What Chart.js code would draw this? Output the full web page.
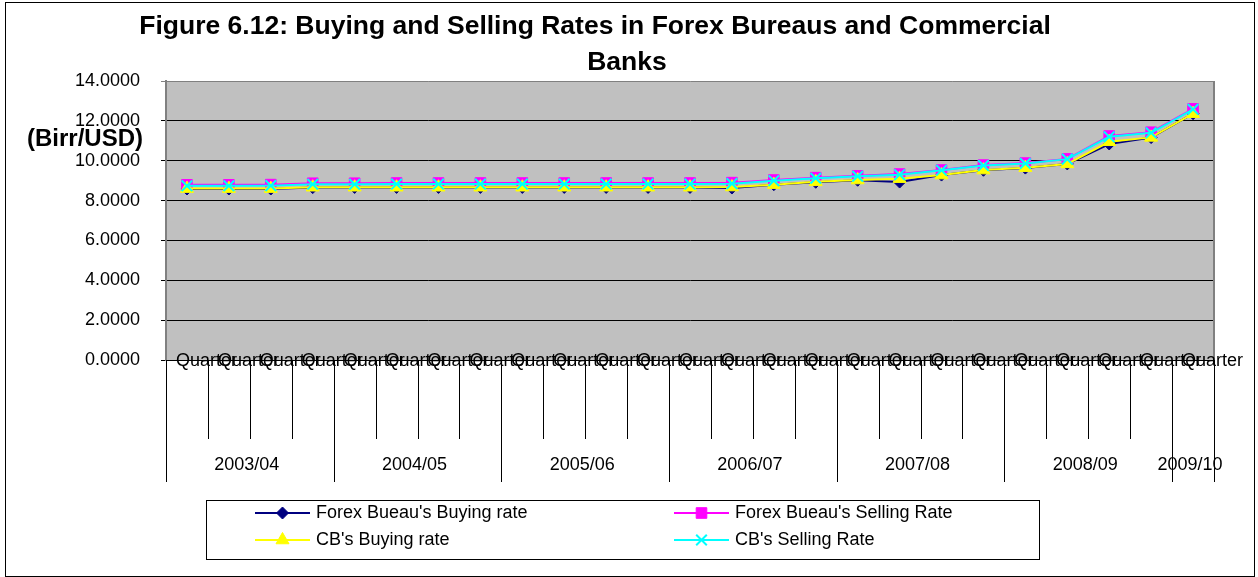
<!DOCTYPE html>
<html>
<head>
<meta charset="utf-8">
<script src="https://cdn.jsdelivr.net/npm/chart.js@4/dist/chart.umd.min.js"></script>
<style>
html,body{margin:0;padding:0;background:#fff;}
canvas{display:block;}
</style>
</head>
<body>
<canvas id="c" width="1258" height="577"></canvas>
<script>
// ---------- data ----------
const titleLines = ['Figure 6.12: Buying and Selling Rates in Forex Bureaus and Commercial', 'Banks'];
const yAxisTitle = '(Birr/USD)';
const categories = ['Quarter','Quarter','Quarter','Quarter','Quarter','Quarter','Quarter','Quarter','Quarter','Quarter',
                    'Quarter','Quarter','Quarter','Quarter','Quarter','Quarter','Quarter','Quarter','Quarter','Quarter',
                    'Quarter','Quarter','Quarter','Quarter','Quarter'];
const yearGroups = ['2003/04','2004/05','2005/06','2006/07','2007/08','2008/09','2009/10'];
const quartersPerYear = [4,4,4,4,4,4,1];
const yMin = 0, yMax = 14, yStep = 2;

const seriesNames = ["Forex Bueau's Buying rate", "Forex Bueau's Selling Rate", "CB's Buying rate", "CB's Selling Rate"];
const fbBuying  = [8.58,8.58,8.58,8.65,8.66,8.66,8.66,8.66,8.66,8.66,8.66,8.66,8.66,8.63,8.80,8.92,9.02,8.93,9.28,9.52,9.63,9.84,10.84,11.16,12.36];
const fbSelling = [8.79,8.79,8.80,8.87,8.87,8.88,8.88,8.88,8.88,8.88,8.88,8.88,8.88,8.90,9.03,9.15,9.24,9.33,9.53,9.78,9.88,10.09,11.24,11.43,12.60];
const cbBuying  = [8.60,8.60,8.60,8.67,8.67,8.67,8.67,8.67,8.67,8.67,8.67,8.67,8.67,8.68,8.80,8.94,9.03,9.10,9.28,9.53,9.65,9.84,10.95,11.17,12.36];
const cbSelling = [8.74,8.74,8.75,8.82,8.82,8.83,8.83,8.83,8.83,8.83,8.83,8.83,8.83,8.85,9.00,9.12,9.22,9.30,9.52,9.76,9.86,10.08,11.20,11.40,12.58];

// ---------- styling ----------
const FONT = '"Liberation Sans", Arial, sans-serif';
const seriesStyles = [
  {color:'#000080', pointStyle:'rectRot',  radius:6,   borderWidth:1},
  {color:'#FF00FF', pointStyle:'rect',     radius:7.5, borderWidth:1},
  {color:'#FFFF00', pointStyle:'triangle', radius:7.5, borderWidth:1},
  {color:'#00FFFF', pointStyle:'crossRot', radius:7.5, borderWidth:2}
];
const seriesData = [fbBuying, fbSelling, cbBuying, cbSelling];

const datasets = seriesData.map((d, i) => ({
  label: seriesNames[i],
  data: d,
  borderColor: seriesStyles[i].color,
  backgroundColor: seriesStyles[i].color,
  pointBackgroundColor: seriesStyles[i].color,
  pointBorderColor: seriesStyles[i].color,
  pointStyle: seriesStyles[i].pointStyle,
  pointRadius: seriesStyles[i].radius,
  pointHoverRadius: seriesStyles[i].radius,
  pointBorderWidth: seriesStyles[i].borderWidth,
  borderWidth: 2,
  tension: 0,
  fill: false,
  order: 4 - i
}));

const decorPlugin = {
  id: 'decor',
  beforeDraw(chart) {
    const ctx = chart.ctx, a = chart.chartArea;
    ctx.save();
    ctx.fillStyle = '#ffffff';
    ctx.fillRect(0, 0, chart.width, chart.height);
    ctx.fillStyle = '#C0C0C0';
    ctx.fillRect(a.left, a.top, a.right - a.left, a.bottom - a.top);
    ctx.restore();
  },
  beforeDatasetsDraw(chart) {
    const ctx = chart.ctx, a = chart.chartArea;
    ctx.save();
    ctx.strokeStyle = '#808080';
    ctx.lineWidth = 2;
    ctx.beginPath();
    ctx.moveTo(a.right, a.top);
    ctx.lineTo(a.right, a.bottom);
    ctx.stroke();
    ctx.restore();
  },
  afterDraw(chart) {
    const ctx = chart.ctx, a = chart.chartArea, xs = chart.scales.x;
    ctx.save();
    // title
    ctx.fillStyle = '#000';
    ctx.font = 'bold 26.5px ' + FONT;
    ctx.textAlign = 'center';
    ctx.textBaseline = 'middle';
    ctx.fillText(titleLines[0], 595, 27);
    ctx.fillText(titleLines[1], 627, 63);
    // y-axis title (horizontal)
    ctx.font = 'bold 24px ' + FONT;
    ctx.fillText(yAxisTitle, 85, 139);

    // category axis
    const n = categories.length;
    const w = xs.getPixelForValue(1) - xs.getPixelForValue(0);
    const y0 = a.bottom;
    let idx = 0;
    const groupStarts = [];
    quartersPerYear.forEach(q => { groupStarts.push(idx); idx += q; });
    ctx.strokeStyle = '#000';
    ctx.lineWidth = 1;
    for (let i = 0; i <= n; i++) {
      const x = Math.round(xs.getPixelForValue(Math.min(i, n - 1)) + (i === n ? w / 2 : -w / 2)) + 0.5;
      const isGroup = groupStarts.includes(i) || i === n;
      ctx.beginPath();
      ctx.moveTo(x, y0);
      ctx.lineTo(x, isGroup ? 482 : 439);
      ctx.stroke();
    }
    // quarter labels
    ctx.font = '18px ' + FONT;
    ctx.textAlign = 'left';
    ctx.textBaseline = 'middle';
    ctx.fillStyle = '#000';
    categories.forEach((lab, i) => {
      ctx.fillText(lab, xs.getPixelForValue(i) - 11, y0 + 1);
    });
    // year labels
    ctx.textAlign = 'center';
    yearGroups.forEach((yl, g) => {
      const s = groupStarts[g], e = s + quartersPerYear[g] - 1;
      const cx = (xs.getPixelForValue(s) + xs.getPixelForValue(e)) / 2 - 3;
      ctx.fillText(yl, cx, 465);
    });

    // legend
    ctx.strokeStyle = '#000';
    ctx.lineWidth = 1;
    ctx.strokeRect(206.5, 500.5, 833, 59);
    const legPos = [[255, 513], [674, 513], [255, 540], [674, 540]];
    chart.data.datasets.forEach((ds, i) => {
      const [lx, ly] = legPos[i];
      const st = seriesStyles[i];
      ctx.strokeStyle = st.color;
      ctx.fillStyle = st.color;
      ctx.lineWidth = 2;
      ctx.beginPath();
      ctx.moveTo(lx, ly);
      ctx.lineTo(lx + 55, ly);
      ctx.stroke();
      ctx.lineWidth = st.borderWidth;
      Chart.helpers.drawPoint(ctx, {pointStyle: st.pointStyle, radius: st.radius, rotation: 0, borderWidth: st.borderWidth}, lx + 27.5, ly);
      ctx.fillStyle = '#000';
      ctx.font = '18px ' + FONT;
      ctx.textAlign = 'left';
      ctx.textBaseline = 'middle';
      ctx.fillText(ds.label, lx + 61, ly);
    });

    // outer border
    ctx.strokeStyle = '#000';
    ctx.lineWidth = 1;
    ctx.strokeRect(5.5, 2.5, 1249, 574);
    ctx.restore();
  }
};

new Chart(document.getElementById('c'), {
  type: 'line',
  data: { labels: categories, datasets: datasets },
  options: {
    responsive: false,
    animation: false,
    devicePixelRatio: 1,
    events: [],
    layout: { padding: { left: 0, top: 81, right: 44, bottom: 0 } },
    plugins: { legend: { display: false }, title: { display: false }, tooltip: { enabled: false } },
    scales: {
      x: {
        type: 'category',
        offset: true,
        grid: { display: false },
        border: { display: false },
        ticks: { display: false },
        afterFit(scale) { scale.height = 217; }
      },
      y: {
        min: yMin, max: yMax,
        ticks: {
          stepSize: yStep,
          color: '#000',
          padding: 21,
          font: { family: FONT, size: 18 },
          callback: v => Number(v).toFixed(4)
        },
        grid: {
          color: c => (c.tick && c.tick.value === yMax) ? '#808080' : '#000',
          lineWidth: 1,
          tickLength: 5,
          drawTicks: true
        },
        border: { color: '#808080', width: 2 },
        afterFit(scale) { scale.width = 166; }
      }
    }
  },
  plugins: [decorPlugin]
});
</script>
</body>
</html>
